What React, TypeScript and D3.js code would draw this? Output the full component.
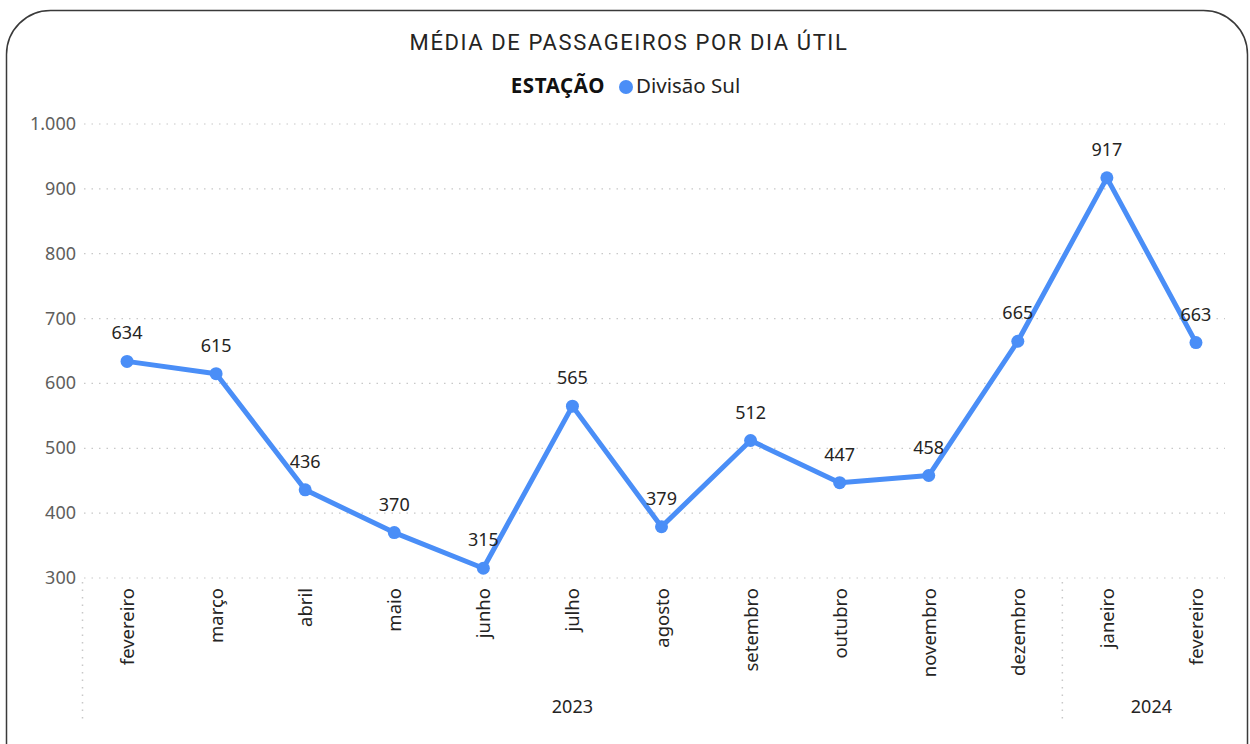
import React from "react";
import * as d3 from "d3";

const months = [
  "fevereiro", "março", "abril", "maio", "junho", "julho", "agosto",
  "setembro", "outubro", "novembro", "dezembro", "janeiro", "fevereiro",
];
const years = ["2023", "2023", "2023", "2023", "2023", "2023", "2023", "2023", "2023", "2023", "2023", "2024", "2024"];
const values = [634, 615, 436, 370, 315, 565, 379, 512, 447, 458, 665, 917, 663];
const yTicks = [300, 400, 500, 600, 700, 800, 900, 1000];

const W = 1250;
const H = 744;
const lineColor = "#4a8ef7";
const font = "'Noto Sans', 'Open Sans', sans-serif";

export default function App() {
  const keys = months.map((m, i) => `${i}`);
  const x = d3.scaleBand().domain(keys).range([82.5, 1240.5]);
  const y = d3.scaleLinear().domain([300, 1000]).range([578, 124]);
  const cx = (i: number) => (x(`${i}`) as number) + x.bandwidth() / 2;

  const line = d3.line<number>()
    .x((d, i) => cx(i))
    .y(d => y(d));

  // group months by year for the second axis level
  const groups = d3.groups(years.map((yr, i) => ({ yr, i })), d => d.yr).map(([yr, items]) => {
    const start = x(`${items[0].i}`) as number;
    const end = (x(`${items[items.length - 1].i}`) as number) + x.bandwidth();
    return { yr, start, end };
  });

  const fmt = (v: number) => d3.format(",")(v).replace(/,/g, ".");

  return (
    <svg width={W} height={H} style={{ position: "absolute", left: 0, top: 0, background: "#fff" }}>
      <rect x={6.5} y={10.5} width={1241} height={780} rx={44} ry={44} fill="#fff" stroke="#3a3a3a" strokeWidth={1.5} />

      <text x={629} y={50} textAnchor="middle" fontFamily="'Roboto', sans-serif" fontSize={22} fill="#252423" letterSpacing={1.6}>
        MÉDIA DE PASSAGEIROS POR DIA ÚTIL
      </text>

      <g fontFamily={font} fontSize={20.5}>
        <text x={605} y={93} textAnchor="end" fontWeight="bold" fill="#111" letterSpacing={0.6}>ESTAÇÃO</text>
        <circle cx={626} cy={87} r={7} fill={lineColor} />
        <text x={636} y={93} fill="#252423">Divisão Sul</text>
      </g>

      {/* gridlines */}
      {yTicks.map(t => (
        <line key={t} x1={84} x2={1225} y1={y(t)} y2={y(t)} stroke="#c8c8c8" strokeWidth={1.2} strokeDasharray="1.5,6" />
      ))}
      {yTicks.map(t => (
        <text key={"l" + t} x={76} y={y(t) + 6} textAnchor="end" fontFamily={font} fontSize={18} fill="#605e5c">
          {fmt(t)}
        </text>
      ))}

      {/* year separators */}
      {[groups[0].start, groups[1].start].map((gx, i) => (
        <line key={"s" + i} x1={gx} x2={gx} y1={582} y2={722} stroke="#c8c8c8" strokeWidth={1.5} strokeDasharray="1.5,6" />
      ))}

      {/* month labels */}
      {months.map((m, i) => (
        <text key={"m" + i} transform={`translate(${cx(i) + 7},${588}) rotate(-90)`} textAnchor="end"
          fontFamily={font} fontSize={18.5} fill="#252423">
          {m}
        </text>
      ))}

      {groups.map(g => (
        <text key={g.yr} x={(g.start + g.end) / 2} y={713} textAnchor="middle" fontFamily={font} fontSize={18} fill="#252423">
          {g.yr}
        </text>
      ))}

      <path d={line(values) || ""} fill="none" stroke={lineColor} strokeWidth={5} strokeLinejoin="round" />
      {values.map((v, i) => (
        <circle key={"p" + i} cx={cx(i)} cy={y(v)} r={6.5} fill={lineColor} />
      ))}
      {values.map((v, i) => (
        <text key={"v" + i} x={cx(i)} y={y(v) - 22} textAnchor="middle" fontFamily={font} fontSize={18} fill="#252423">
          {v}
        </text>
      ))}
    </svg>
  );
}
